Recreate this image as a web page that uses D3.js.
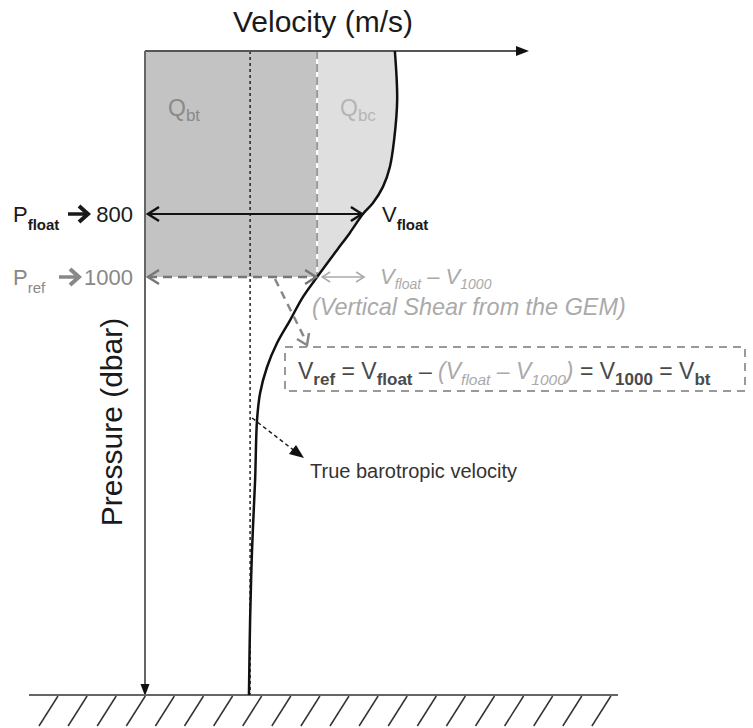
<!DOCTYPE html>
<html><head><meta charset="utf-8">
<script src="https://cdn.jsdelivr.net/npm/d3@7"></script>
<style>body{margin:0;background:#fff} svg{display:block} text{font-family:"Liberation Sans",Arial,sans-serif}</style>
</head><body><svg id="c" width="753" height="728"></svg>
<script>
// ---- data (schematic profile) ----
const pressureLevels = [800, 1000];          // dbar
const bottomPressure = 4000;                 // dbar (sea floor, schematic)
const profilePressure = [0,240,437,569,667,746,800,860,914,1000,1144,1309,1474,1646,1833,2026,2457,2960,3462,4000];
const profileVelocity = [0.649,0.655,0.647,0.636,0.618,0.592,0.566,0.532,0.499,0.447,0.410,0.377,0.343,0.317,0.299,0.291,0.286,0.278,0.273,0.270];
const vFloat = 0.566;       // velocity at float parking depth (800)
const v1000 = 0.447;        // velocity at reference level (1000)
const vBarotropic = 0.273;  // true barotropic velocity

const svg = d3.select("#c");
// schematic (non-uniform) pressure axis
const y = d3.scaleLinear().domain([0, 800, 1000, bottomPressure]).range([51, 214, 277, 695]);
const x = d3.scaleLinear().domain([0, 1]).range([145, 530]);

const profile = profilePressure.map((p, i) => ({p, v: profileVelocity[i]}));
const curve = d3.curveCatmullRom.alpha(0.5);

// fills
svg.append("rect").attr("x", x(0)).attr("y", y(0))
  .attr("width", x(v1000) - x(0)).attr("height", y(1000) - y(0)).attr("fill", "#c3c3c3");
const upper = profile.filter(d => d.p <= 1000);
svg.append("path").datum(upper)
  .attr("d", d3.area().y(d => y(d.p)).x0(x(v1000)).x1(d => x(d.v)).curve(curve))
  .attr("fill", "#dfdfdf");

// dashed V1000 line
svg.append("line").attr("x1", x(v1000)).attr("x2", x(v1000)).attr("y1", y(0)).attr("y2", y(1000))
  .attr("stroke", "#fff").attr("stroke-width", 2);
svg.append("line").attr("x1", x(v1000)).attr("x2", x(v1000)).attr("y1", y(0)).attr("y2", y(1000))
  .attr("stroke", "#999").attr("stroke-width", 2).attr("stroke-dasharray", "8,5");

// dotted barotropic line
svg.append("line").attr("x1", x(vBarotropic)).attr("x2", x(vBarotropic)).attr("y1", y(0)).attr("y2", y(bottomPressure))
  .attr("stroke", "#222").attr("stroke-width", 1.5).attr("stroke-dasharray", "3,3");

// axes
svg.append("line").attr("x1", x(0)).attr("x2", 518).attr("y1", y(0)).attr("y2", y(0))
  .attr("stroke", "#555").attr("stroke-width", 2);
svg.append("path").attr("d", `M516,${y(0)-5}L529,${y(0)}L516,${y(0)+5}Z`).attr("fill", "#111");
svg.append("line").attr("x1", x(0)).attr("x2", x(0)).attr("y1", y(0)).attr("y2", y(bottomPressure) - 8)
  .attr("stroke", "#666").attr("stroke-width", 2);
svg.append("path").attr("d", `M${x(0)-4.5},${y(bottomPressure)-11}L${x(0)},${y(bottomPressure)+1}L${x(0)+4.5},${y(bottomPressure)-11}Z`).attr("fill", "#111");

// ground
svg.append("line").attr("x1", 29).attr("x2", 618).attr("y1", y(bottomPressure)).attr("y2", y(bottomPressure))
  .attr("stroke", "#666").attr("stroke-width", 2);
svg.append("g").selectAll("line").data(d3.range(20)).join("line")
  .attr("x1", i => 58 + i * 29.1).attr("y1", y(bottomPressure) + 1)
  .attr("x2", i => 58 + i * 29.1 - 19).attr("y2", 726)
  .attr("stroke", "#333").attr("stroke-width", 1.5);

// profile curve
svg.append("path").datum(profile)
  .attr("d", d3.line().y(d => y(d.p)).x(d => x(d.v)).curve(curve))
  .attr("fill", "none").attr("stroke", "#111").attr("stroke-width", 2.5);

// helper chevron
function chevron(g, tx, ty, dir, color, w, len = 10, half = 6) {
  g.append("path").attr("d", `M${tx + dir * len},${ty - half}L${tx},${ty}L${tx + dir * len},${ty + half}`)
    .attr("fill", "none").attr("stroke", color).attr("stroke-width", w).attr("stroke-linejoin", "miter");
}
const g = svg.append("g");
// Pfloat double arrow
g.append("line").attr("x1", x(0) + 2).attr("x2", x(vFloat) - 1).attr("y1", y(800)).attr("y2", y(800))
  .attr("stroke", "#111").attr("stroke-width", 2.2);
chevron(g, x(0) + 3, y(800), 1, "#111", 2.5, 11, 7);
chevron(g, x(vFloat) - 1, y(800), -1, "#111", 2.5, 11, 7);
// Pref dashed double arrow
g.append("line").attr("x1", x(0) + 3).attr("x2", x(v1000) - 2).attr("y1", y(1000)).attr("y2", y(1000))
  .attr("stroke", "#777").attr("stroke-width", 2.5).attr("stroke-dasharray", "9,6");
chevron(g, x(0) + 3, y(1000), 1, "#777", 2.5, 11, 7);
chevron(g, x(v1000) - 1, y(1000), -1, "#777", 2.5, 11, 7);
// shear arrow (light)
g.append("line").attr("x1", x(v1000) + 5).attr("x2", x(v1000) + 47).attr("y1", y(1000)).attr("y2", y(1000))
  .attr("stroke", "#aaa").attr("stroke-width", 1.5);
chevron(g, x(v1000) + 5, y(1000), 1, "#aaa", 1.5, 8, 5);
chevron(g, x(v1000) + 47, y(1000), -1, "#aaa", 1.5, 8, 5);

// dashed arrow to box
g.append("line").attr("x1", 275).attr("y1", 279).attr("x2", 306).attr("y2", 341)
  .attr("stroke", "#888").attr("stroke-width", 2.5).attr("stroke-dasharray", "8,6");
g.append("path").attr("d", "M297,339L307,345L309,333").attr("fill", "none").attr("stroke", "#888").attr("stroke-width", 2.5);

// box
svg.append("rect").attr("x", 285).attr("y", 347).attr("width", 460).attr("height", 44)
  .attr("fill", "none").attr("stroke", "#999").attr("stroke-width", 2).attr("stroke-dasharray", "8,6");

// barotropic pointer
g.append("line").attr("x1", x(vBarotropic) + 2).attr("y1", 418).attr("x2", 296).attr("y2", 452)
  .attr("stroke", "#222").attr("stroke-width", 1.5).attr("stroke-dasharray", "4,3");
g.append("path").attr("d", "M304,458L289,454L296,445Z").attr("fill", "#111");

// ---- text ----
function rich(xp, yp, parts, opts = {}) {
  const t = svg.append("text").attr("x", xp).attr("y", yp)
    .attr("font-size", opts.size || 22).attr("fill", opts.color || "#222");
  if (opts.italic) t.attr("font-style", "italic");
  let shift = 0;
  parts.forEach(p => {
    const ts = t.append("tspan").text(p.t);
    const target = p.sub ? (p.subDy || 7) : 0;
    ts.attr("dy", target - shift); shift = target;
    if (p.sub) ts.attr("font-size", p.size || 15).attr("font-weight", p.bold === false ? null : "bold");
    if (p.size && !p.sub) ts.attr("font-size", p.size);
    if (p.color) ts.attr("fill", p.color);
    if (p.italic) ts.attr("font-style", "italic");
    if (p.bold && !p.sub) ts.attr("font-weight", "bold");
  });
  return t;
}

svg.append("text").attr("x", 323).attr("y", 32).attr("text-anchor", "middle")
  .attr("font-size", 30).attr("fill", "#1a1a1a").text("Velocity (m/s)");
svg.append("text").attr("transform", "translate(122,422) rotate(-90)").attr("text-anchor", "middle")
  .attr("font-size", 30).attr("fill", "#1a1a1a").text("Pressure (dbar)");

// Q labels
rich(168, 116, [{t: "Q"}, {t: "bt", sub: true, size: 17, bold: false, subDy: 5}], {size: 23, color: "#8a8a8a"});
rich(340, 116, [{t: "Q"}, {t: "bc", sub: true, size: 17, bold: false, subDy: 5}], {size: 23, color: "#b5b5b5"});

// level labels
rich(13, 222, [{t: "P"}, {t: "float", sub: true, size: 15, subDy: 8}], {size: 22, color: "#1a1a1a"});
rich(13, 285, [{t: "P"}, {t: "ref", sub: true, size: 15, subDy: 8, bold: false}], {size: 22, color: "#888"});
function bigArrow(x0, yy, color) {
  svg.append("line").attr("x1", x0).attr("x2", x0 + 18).attr("y1", yy).attr("y2", yy)
    .attr("stroke", color).attr("stroke-width", 3.5);
  svg.append("path").attr("d", `M${x0 + 11},${yy - 8}L${x0 + 20},${yy}L${x0 + 11},${yy + 8}`)
    .attr("fill", "none").attr("stroke", color).attr("stroke-width", 4);
}
bigArrow(68, y(800), "#1a1a1a");
bigArrow(59, y(1000), "#888");
svg.append("text").attr("x", 133).attr("y", 222).attr("text-anchor", "end").attr("font-size", 22)
  .attr("fill", "#1a1a1a").text(pressureLevels[0]);
svg.append("text").attr("x", 133).attr("y", 285).attr("text-anchor", "end").attr("font-size", 22)
  .attr("fill", "#888").text(pressureLevels[1]);

rich(382, 222, [{t: "V"}, {t: "float", sub: true, size: 15, subDy: 8}], {size: 22, color: "#1a1a1a"});

rich(380, 284, [{t: "V"}, {t: "float", sub: true, size: 14, subDy: 5, bold: false}, {t: " – V"},
  {t: "1000", sub: true, size: 14, subDy: 5, bold: false}], {size: 22, color: "#aaa", italic: true});
svg.append("text").attr("x", 312).attr("y", 315).attr("font-size", 23.4).attr("font-style", "italic")
  .attr("fill", "#aaa").text("(Vertical Shear from the GEM)");

rich(298, 379, [
  {t: "V"}, {t: "ref", sub: true, size: 17, subDy: 6},
  {t: " = V"}, {t: "float", sub: true, size: 17, subDy: 6},
  {t: " – "},
  {t: "(V", italic: true, color: "#aaa"}, {t: "float", sub: true, size: 15.5, subDy: 6, bold: false, italic: true, color: "#aaa"},
  {t: " – V", italic: true, color: "#aaa"}, {t: "1000", sub: true, size: 15.5, subDy: 6, bold: false, italic: true, color: "#aaa"},
  {t: ")", italic: true, color: "#aaa"},
  {t: " = V"}, {t: "1000", sub: true, size: 17, subDy: 6},
  {t: " = V"}, {t: "bt", sub: true, size: 17, subDy: 6}
], {size: 23, color: "#4a4a4a"});

svg.append("text").attr("x", 310).attr("y", 478).attr("font-size", 20).attr("fill", "#333")
  .text("True barotropic velocity");
</script></body></html>
